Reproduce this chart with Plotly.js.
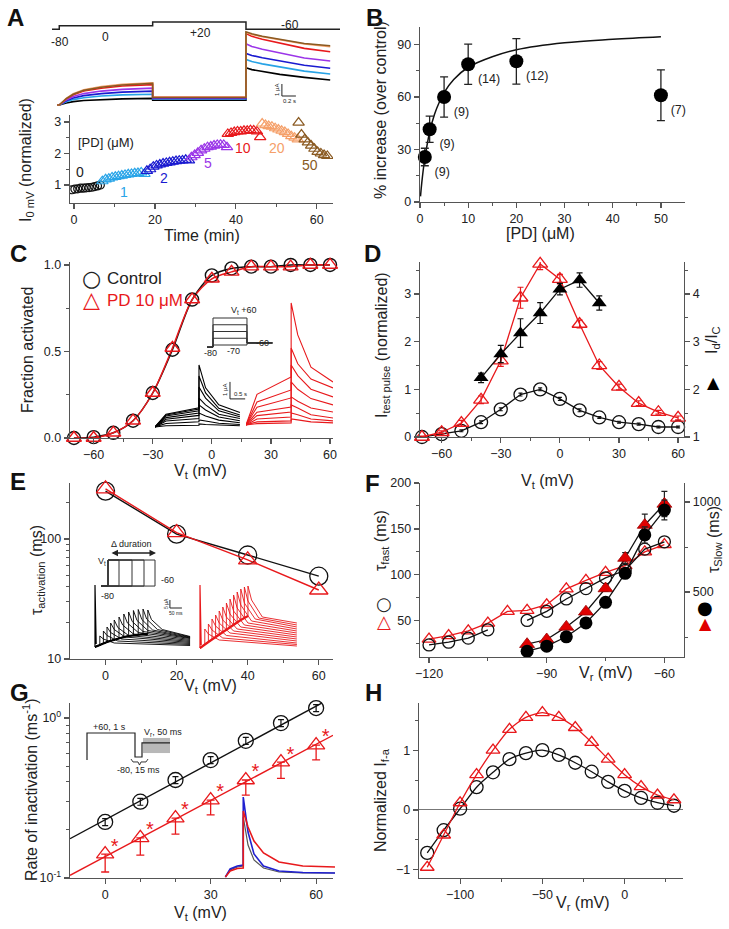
<!DOCTYPE html>
<html><head><meta charset="utf-8">
<script src="https://cdn.plot.ly/plotly-3.0.1.min.js"></script>
<style>html,body{margin:0;padding:0;background:#fff}#g{width:729px;height:929px}</style>
</head><body><div id="g"></div>
<script>
// ---------------- DATA ----------------
// Panel A top: example currents (uA) at common times (s)
const aTraceT = [-0.03,0,0.1,0.2,0.35,0.6,0.9,1.334,1.334,2.667,2.667,2.75,2.9,3.15,3.5,3.87];
const aCurBlack  = [0,0,0.17,0.28,0.37,0.45,0.51,0.55,0.4,0.4,3.1,2.95,2.78,2.55,2.3,2.08];
const aCurLBlue  = [0,0,0.27,0.45,0.61,0.75,0.84,0.9,0.5,0.5,3.8,3.62,3.43,3.15,2.82,2.58];
const aCurBlue   = [0,0,0.35,0.58,0.78,0.95,1.07,1.15,0.55,0.55,4.3,4.13,3.93,3.66,3.31,3.06];
const aCurPurple = [0,0,0.42,0.7,0.95,1.16,1.3,1.4,0.6,0.6,5.1,4.88,4.65,4.33,3.92,3.67];
const aCurRed    = [0,0,0.51,0.85,1.16,1.4,1.58,1.7,0.65,0.65,5.95,5.72,5.48,5.14,4.72,4.44];
const aCurOrange = [0,0,0.55,0.93,1.26,1.53,1.72,1.85,0.65,0.65,6.05,5.87,5.69,5.44,5.09,4.86];
const aCurBrown  = [0,0,0.54,0.9,1.22,1.48,1.67,1.8,0.62,0.62,6.1,5.93,5.73,5.46,5.13,4.94];
const aProtoT = [-0.104,0,0,1.334,1.334,2.667,2.667,4.01];
const aProtoLevel = [0,0,1,1,2,2,0,0];
// Panel A bottom: I0mV (normalized) vs time (min)
const aT0  = [-0.5,0.2,0.9,1.6,2.3,3.0,3.7,4.4,5.1,5.8,6.5];
const aY0  = [0.85,0.87,0.88,0.9,0.9,0.91,0.92,0.93,0.95,0.97,1.0];
const aT1  = [7,7.8,8.6,9.4,10.2,11,11.8,12.6,13.4,14.2,15,15.8,16.6,17.4];
const aY1  = [1.12,1.18,1.2,1.24,1.26,1.28,1.3,1.32,1.34,1.35,1.37,1.38,1.4,1.35];
const aT2  = [18,18.8,19.6,20.4,21.2,22,22.8,23.6,24.4,25.2,26,26.8,27.6,28.4];
const aY2  = [1.45,1.5,1.58,1.62,1.65,1.68,1.7,1.72,1.74,1.76,1.77,1.78,1.8,1.78];
const aT5  = [29,29.8,30.6,31.4,32.2,33,33.8,34.6,35.4,36.2,37,37.8];
const aY5  = [1.88,1.95,2.02,2.1,2.15,2.2,2.22,2.25,2.27,2.28,2.27,2.2];
const aT10 = [38,38.8,39.6,40.4,41.2,42,42.8,43.6,44.4,45.2,46];
const aY10 = [2.62,2.65,2.68,2.7,2.7,2.72,2.72,2.74,2.73,2.7,2.52];
const aT20 = [46.5,47.3,48.1,48.9,49.7,50.5,51.3,52.1,52.9,53.7,54.5,55.3];
const aY20 = [2.95,2.9,2.87,2.85,2.8,2.76,2.72,2.68,2.62,2.55,2.5,2.45];
const aT50 = [55.5,56.2,57,57.8,58.6,59.4,60.2,61,61.8,62.6];
const aY50 = [2.98,2.6,2.45,2.35,2.25,2.15,2.05,2.0,1.95,1.92];
// Panel B
const bConc = [1,2,5,10,20,50];
const bPct  = [25.7,41.6,60,78.7,80.4,61];
const bErr  = [5,7.5,11.5,11.5,13,14.5];
const bN    = ['(9)','(9)','(9)','(14)','(12)','(7)'];
const bFitX = [0.1,0.25,0.5,1,1.5,2,3,4,5,7,10,15,20,30,40,50];
const bFitY = [3.2,7.7,14.3,25,33,40,50,57,62.5,70,77,83,87,91,93,94.5];
// Panel C
const cV    = [-70,-60,-50,-40,-30,-20,-10,0,10,20,30,40,50,60];
const cCtrl = [0,0.005,0.03,0.1,0.26,0.51,0.8,0.94,0.98,0.99,0.99,1.0,1.0,1.0];
const cPD   = [0,0,0.03,0.1,0.26,0.52,0.8,0.92,0.96,0.99,0.99,0.99,1.0,1.0];
const cProtoSteps = [-70,-37.5,-5,27.5,60];
const cBlkT = [0,0.5,2.0,2.0,2.3,2.9,3.86];
const cBlkEarly = [0.75,0.7,0.65,0.55,0.45,0.35,0.2,0.07];
const cBlkStep  = [1.12,1.05,0.95,0.82,0.68,0.5,0.3,0.1];
const cBlkPeak  = [3.65,3.0,2.35,1.7,1.3,0.82,0.41,0.18];
const cBlkMid   = [2.3,2.0,1.7,1.3,1.0,0.65,0.35,0.14];
const cBlkLate  = [1.3,1.1,0.95,0.75,0.58,0.4,0.22,0.1];
const cBlkEnd   = [0.85,0.7,0.6,0.5,0.36,0.25,0.14,0.07];
const cRedT = [0,0.5,2.05,2.05,2.35,2.95,3.95];
const cRedEarly = [1.8,1.35,1.05,0.75,0.55,0.35,0.18,0.08];
const cRedStep  = [2.82,2.06,1.59,1.06,0.76,0.47,0.24,0.12];
const cRedPeak  = [7.18,4.53,3.53,2.53,1.65,1.18,0.7,0.35];
const cRedMid   = [5.3,3.6,2.9,2.1,1.4,1.0,0.6,0.3];
const cRedLate  = [3.4,2.7,2.1,1.55,1.0,0.6,0.35,0.18];
const cRedEnd   = [2.53,2.18,1.65,1.18,0.76,0.41,0.24,0.12];
// Panel D
const dV       = [-70,-60,-50,-40,-30,-20,-10,0,10,20,30,40,50,60];
const dCtrl    = [0,0.06,0.13,0.31,0.58,0.89,1.0,0.8,0.56,0.41,0.31,0.27,0.21,0.21];
const dCtrlErr = [0.01,0.02,0.02,0.03,0.03,0.03,0.03,0.03,0.03,0.02,0.02,0.02,0.02,0.02];
const dPD      = [0,0.1,0.29,0.78,1.6,2.92,3.63,3.31,2.37,1.5,1.05,0.71,0.52,0.4];
const dPDErr   = [0.02,0.03,0.06,0.08,0.12,0.22,0.12,0.1,0.08,0.08,0.06,0.05,0.04,0.04];
const dRatioV  = [-40,-30,-20,-10,0,10,20];
const dRatio   = [2.24,2.74,3.18,3.6,4.1,4.29,3.81];
const dRatioErr= [0.1,0.18,0.3,0.22,0.12,0.15,0.15];
// Panel E
const eV = [0,20,40,60];
const eCtrl = [251,110,73.6,49];
const ePD   = [262,113,67,37.6];
const eProtoEnds = [19,32,44,55];
const eBlkActT = [0,10,20,35,50,65,80,100,120,140,160,180,200,220];
const eBlkActI = [0,0.08,0.2,0.35,0.5,0.62,0.75,0.9,1.0,1.1,1.18,1.24,1.28,1.3];
const eBlkTailT  = [20,35,50,65,80,100,120,140,160,180,200,220];
const eBlkTailPk = [1.1,1.6,2.0,2.4,2.7,3.0,3.3,3.5,3.65,3.75,3.8,3.7];
const eBlkTailMid= [0.8,1.15,1.45,1.75,1.95,2.2,2.4,2.55,2.65,2.75,2.8,2.75];
const eBlkTailLate=[0.4,0.6,0.8,1.0,1.15,1.3,1.45,1.55,1.65,1.7,1.75,1.75];
const eBlkTailEnd= [0.15,0.25,0.35,0.45,0.55,0.65,0.75,0.85,0.9,0.95,1.0,1.05];
const eRedActT = [0,10,20,35,50,65,80,95,110,125,140,155,170,185,200];
const eRedActI = [0,0.15,0.35,0.6,0.85,1.1,1.35,1.6,1.85,2.1,2.35,2.6,2.8,3.0,3.2];
const eRedTailT  = [20,35,50,65,80,95,110,125,140,155,170,185,200];
const eRedTailPk = [1.9,2.4,2.9,3.3,3.7,4.1,4.5,4.9,5.3,5.6,5.9,6.1,6.2];
const eRedTailMid= [1.4,1.8,2.2,2.5,2.8,3.1,3.4,3.7,4.0,4.3,4.5,4.7,4.8];
const eRedTailLate=[0.8,1.0,1.25,1.5,1.7,1.9,2.1,2.3,2.5,2.7,2.9,3.0,3.1];
const eRedTailEnd= [0.2,0.35,0.5,0.7,0.9,1.1,1.3,1.5,1.7,1.9,2.1,2.3,2.5];
const eSpike = [6.2,6.3];
// Panel F
const fV = [-120,-115,-110,-105,-100,-95,-90,-85,-80,-75,-70,-65,-60];
const fFastCtrl = [23.7,26.7,31.1,40.2,null,50.4,60.3,73.8,85,96.7,105,128,136];
const fFastPD   = [30,33.9,39,47.5,60.2,61.3,67.5,84.7,94,102.8,110,125,133];
const fSlowV = [-95,-90,-85,-80,-75,-70,-65,-60];
const fSlowCtrl = [172,200,252,329,443,604,817,955];
const fSlowPD   = [211,237,307,391,520,689,872,989];
const fSlowCtrlErr = [8,8,10,12,15,25,45,55];
const fSlowPDErr   = [8,8,10,12,15,30,60,70];
// Panel G
const gV = [0,10,20,30,40,50,60];
const gCtrl = [0.224,0.30,0.41,0.546,0.72,0.93,1.155];
const gPD   = [0.141,0.178,0.237,0.307,0.41,0.53,0.678];
const gPDErrMinus = [0.032,0.039,0.049,0.059,0.08,0.11,0.13];
const gFitCtrlX = [-10,61.6], gFitCtrlY = [0.176,1.24];
const gFitPDX = [-10,64.8],  gFitPDY = [0.104,0.78];
const gCurT = [0,4,10,15,15,19,24,32,45,65,92];
const gCurRed   = [0,0.6,0.85,0.9,6.6,5.0,3.6,2.4,1.5,1.1,1.0];
const gCurBlue  = [0,0.8,1.1,1.2,8.0,4.5,2.3,1.1,0.6,0.45,0.4];
const gCurBlack = [0,0.7,1.0,1.1,6.0,3.2,1.7,0.9,0.5,0.4,0.4];
// Panel H
const hV   = [-120,-110,-100,-90,-80,-70,-60,-50,-40,-30,-20,-10,0,10,20,30];
const hCtrl= [-0.72,-0.34,0.02,0.38,0.63,0.85,0.95,1.0,0.92,0.79,0.64,0.47,0.32,0.2,0.12,0.07];
const hPD  = [-0.96,-0.42,0.12,0.59,1.0,1.35,1.55,1.63,1.55,1.38,1.13,0.85,0.59,0.39,0.25,0.17];

// ---------------- HELPERS ----------------
const W=729,H=929;
const FONT='Liberation Sans, Arial, sans-serif';
const AX='#555';
const RED='#e8191c';
function dX(a,b){return [a/W,b/W];}
function dY(t,b){return [1-b/H,1-t/H];}
function base(){return {showline:true,linecolor:AX,linewidth:1.3,ticks:'outside',ticklen:5,tickwidth:1.2,tickcolor:AX,showgrid:false,zeroline:false,tickfont:{family:FONT,size:12.5,color:'#222'},fixedrange:true};}
function mn(vals){return {ticks:'outside',ticklen:3,tickwidth:1,tickcolor:AX,tickvals:vals,showgrid:false};}
function X(px,range,anchor,ex){return Object.assign(base(),{domain:dX(px[0],px[1]),range,anchor},ex||{});}
function Y(py,range,anchor,ex){return Object.assign(base(),{domain:dY(py[0],py[1]),range,anchor},ex||{});}
function HX(px,range,anchor){return {domain:dX(px[0],px[1]),range,anchor,visible:false,fixedrange:true};}
function HY(py,range,anchor){return {domain:dY(py[0],py[1]),range,anchor,visible:false,fixedrange:true};}
function ann(x,y,text,opt){
  const o=Object.assign({xref:'paper',yref:'paper',x:x/W,y:1-y/H,text,showarrow:false,xanchor:'center',yanchor:'middle'},opt||{});
  o.font=Object.assign({family:FONT,size:16,color:'#222'},(opt&&opt.font)||{});
  return o;
}
const traces=[];
function add(t){t.showlegend=false;t.hoverinfo='skip';traces.push(t);}
function ln(x,y,xa,ya,color,w,extra){add(Object.assign({type:'scatter',mode:'lines',x,y,xaxis:xa,yaxis:ya,line:{color,width:w||1}},extra||{}));}

// ---------------- PANEL A ----------------
ln(aProtoT,aProtoLevel,'x12','y12','#222',1.5);
const aCols=[['#000',aCurBlack],['#27a3e6',aCurLBlue],['#1a1ad0',aCurBlue],['#9b35e8',aCurPurple],[RED,aCurRed],['#f5a06a',aCurOrange],['#8a5a22',aCurBrown]];
aCols.forEach(c=>ln(aTraceT,c[1],'x11','y11',c[0],1.6));
ln([3.18,3.18,3.38],[1.75,0.75,0.75],'x11','y11','#222',1); // scale bar 1 uA / 0.2 s
const aGroups=[[aT0,aY0,'#111','circle-open',8],[aT1,aY1,'#2aa5e8','triangle-up-open',10],[aT2,aY2,'#1a1ad0','triangle-up-open',10],[aT5,aY5,'#9b35e8','triangle-up-open',10],[aT10,aY10,RED,'triangle-up-open',10],[aT20,aY20,'#f5a06a','triangle-up-open',10],[aT50,aY50,'#8a5a22','triangle-up-open',10]];
aGroups.forEach(g=>add({type:'scatter',mode:'markers',x:g[0],y:g[1],xaxis:'x',yaxis:'y',marker:{symbol:g[3],size:g[4],color:g[2],line:{width:1.2,color:g[2]}}}));

// ---------------- PANEL B ----------------
ln(bFitX,bFitY,'x2','y2','#111',1.5,{line:{color:'#111',width:1.5,shape:'spline'}});
add({type:'scatter',mode:'markers+text',x:bConc,y:bPct,xaxis:'x2',yaxis:'y2',text:bN,textposition:'bottom right',cliponaxis:false,textfont:{family:FONT,size:12.5,color:'#222'},
  marker:{symbol:'circle',size:14,color:'#000'},error_y:{type:'data',array:bErr,visible:true,color:'#222',thickness:1.3,width:4}});

// ---------------- PANEL C ----------------
ln(cV,cCtrl,'x3','y3','#111',1.5,{line:{color:'#111',width:1.5,shape:'spline',smoothing:0.8}});
ln(cV,cPD,'x3','y3',RED,1.5,{line:{color:RED,width:1.5,shape:'spline',smoothing:0.8}});
add({type:'scatter',mode:'markers',x:cV,y:cCtrl,xaxis:'x3',yaxis:'y3',cliponaxis:false,marker:{symbol:'circle-open',size:13,color:'#111',line:{width:1.4,color:'#111'}}});
add({type:'scatter',mode:'markers',x:cV,y:cPD,xaxis:'x3',yaxis:'y3',cliponaxis:false,marker:{symbol:'triangle-up-open',size:13,color:RED,line:{width:1.4,color:RED}}});
cProtoSteps.forEach(v=>ln([-0.35,0,0,2,2,3.5],[-80,-80,v,v,-60,-60],'x15','y15','#333',1));
for(let i=0;i<cBlkPeak.length;i++) ln(cBlkT,[0,cBlkEarly[i],cBlkStep[i],cBlkPeak[i],cBlkMid[i],cBlkLate[i],cBlkEnd[i]],'x13','y13','#000',1.1);
for(let i=0;i<cRedPeak.length;i++) ln(cRedT,[0,cRedEarly[i],cRedStep[i],cRedPeak[i],cRedMid[i],cRedLate[i],cRedEnd[i]],'x14','y14',RED,1.1);
ln([3.41,3.41,4.1],[2.65,1.65,1.65],'x13','y13','#222',1); // scale bar 1 uA / 0.5 s

// ---------------- PANEL D ----------------
add({type:'scatter',mode:'lines+markers',x:dV,y:dCtrl,xaxis:'x4',yaxis:'y4',cliponaxis:false,line:{color:'#111',width:1.3},marker:{symbol:'circle-open',size:13,color:'#111',line:{width:1.3,color:'#111'}},error_y:{type:'data',array:dCtrlErr,color:'#111',thickness:1.2,width:2}});
add({type:'scatter',mode:'lines+markers',x:dV,y:dPD,xaxis:'x4',yaxis:'y4',cliponaxis:false,line:{color:RED,width:1.3},marker:{symbol:'triangle-up-open',size:13,color:RED,line:{width:1.3,color:RED}},error_y:{type:'data',array:dPDErr,color:RED,thickness:1.2,width:3}});
add({type:'scatter',mode:'lines+markers',x:dRatioV,y:dRatio,xaxis:'x4',yaxis:'y9',line:{color:'#111',width:1.3},marker:{symbol:'triangle-up',size:13,color:'#000'},error_y:{type:'data',array:dRatioErr,color:'#111',thickness:1.2,width:3}});

// ---------------- PANEL E ----------------
add({type:'scatter',mode:'lines+markers',x:eV,y:eCtrl,xaxis:'x5',yaxis:'y5',cliponaxis:false,line:{color:'#111',width:1.4},marker:{symbol:'circle-open',size:18,color:'#111',line:{width:1.3,color:'#111'}}});
add({type:'scatter',mode:'lines+markers',x:eV,y:ePD,xaxis:'x5',yaxis:'y5',cliponaxis:false,line:{color:RED,width:1.4},marker:{symbol:'triangle-up-open',size:16,color:RED,line:{width:1.3,color:RED}}});
eProtoEnds.forEach(e=>ln([1,8,8,e,e,1],[-80,-80,60,60,-80,-80],'x18','y18','#333',1));
function eFamily(actT,actI,tT,pk,mid,late,end,tEnd,xa,ya,col,spk){
  ln([0,0,5],[0,spk,0.3],xa,ya,col,1.2);
  for(let i=0;i<tT.length;i++){
    const xs=[],ys=[];
    for(let k=0;k<actT.length&&actT[k]<=tT[i];k++){xs.push(actT[k]);ys.push(actI[k]);}
    xs.push(tT[i],tT[i]+15,tT[i]+60,tEnd);ys.push(pk[i],mid[i],late[i],end[i]);
    ln(xs,ys,xa,ya,col,0.9);
  }
  ln(actT,actI,xa,ya,col,2.2);
}
eFamily(eBlkActT,eBlkActI,eBlkTailT,eBlkTailPk,eBlkTailMid,eBlkTailLate,eBlkTailEnd,396,'x16','y16','#000',eSpike[0]);
eFamily(eRedActT,eRedActI,eRedTailT,eRedTailPk,eRedTailMid,eRedTailLate,eRedTailEnd,404,'x17','y17',RED,eSpike[1]);
ln([312,312,362],[4.7,3.9,3.9],'x16','y16','#222',1); // scale bar

// ---------------- PANEL F ----------------
add({type:'scatter',mode:'lines+markers',x:fV,y:fFastPD,xaxis:'x6',yaxis:'y6',line:{color:RED,width:1.3},marker:{symbol:'triangle-up-open',size:12,color:RED,line:{width:1.3,color:RED}}});
add({type:'scatter',mode:'lines+markers',x:fV,y:fFastCtrl,xaxis:'x6',yaxis:'y6',connectgaps:false,line:{color:'#111',width:1.3},marker:{symbol:'circle-open',size:12,color:'#111',line:{width:1.3,color:'#111'}}});
add({type:'scatter',mode:'lines+markers',x:fSlowV,y:fSlowPD,xaxis:'x6',yaxis:'y10',line:{color:'#111',width:1.3},marker:{symbol:'triangle-up',size:13,color:'#e00000',line:{width:0.8,color:'#900'}},error_y:{type:'data',array:fSlowPDErr,color:'#222',thickness:1.2,width:3}});
add({type:'scatter',mode:'lines+markers',x:fSlowV,y:fSlowCtrl,xaxis:'x6',yaxis:'y10',line:{color:'#111',width:1.3},marker:{symbol:'circle',size:13,color:'#000'},error_y:{type:'data',array:fSlowCtrlErr,color:'#222',thickness:1.2,width:3}});

// ---------------- PANEL G ----------------
ln(gFitCtrlX,gFitCtrlY,'x7','y7','#111',1.4);
ln(gFitPDX,gFitPDY,'x7','y7',RED,1.4);
add({type:'scatter',mode:'markers',x:gV,y:gCtrl,xaxis:'x7',yaxis:'y7',cliponaxis:false,marker:{symbol:'circle-open',size:15,color:'#111',line:{width:1.3,color:'#111'}},error_y:{type:'data',array:gCtrl.map(v=>v*0.05),color:'#111',thickness:1.2,width:3}});
add({type:'scatter',mode:'markers',x:gV,y:gPD,xaxis:'x7',yaxis:'y7',cliponaxis:false,marker:{symbol:'triangle-up-open',size:15,color:RED,line:{width:1.3,color:RED}},error_y:{type:'data',symmetric:false,array:gPD.map(()=>0),arrayminus:gPDErrMinus,color:RED,thickness:1.3,width:4}});
add({type:'scatter',mode:'text',x:gV.map(v=>v+2.7),y:gPD.map(v=>v*1.1),xaxis:'x7',yaxis:'y7',cliponaxis:false,text:gV.map(()=>'*'),textposition:'middle center',textfont:{family:FONT,size:20,color:RED}});
// protocol inset (schematic)
add({type:'scatter',mode:'lines',x:[58,85,85,58,58],y:[31,31,-57,-57,31],xaxis:'x19',yaxis:'y19',fill:'toself',fillcolor:'rgba(160,160,160,0.75)',line:{width:0}});
ln([2,2,50,50,57,57,85],[-97,60,60,-80,-80,2,2],'x19','y19','#222',1.2);
ln([46,48,53,54.5,56,61,63],[-92,-109,-109,-127,-109,-109,-92],'x19','y19','#222',0.9);
ln(gCurT,gCurBlack,'x20','y20','#555',1.2);
ln(gCurT,gCurBlue,'x20','y20','#2020d0',1.6);
ln(gCurT,gCurRed,'x20','y20',RED,1.6);

// ---------------- PANEL H ----------------
add({type:'scatter',mode:'lines+markers',x:hV,y:hCtrl,xaxis:'x8',yaxis:'y8',cliponaxis:false,line:{color:'#111',width:1.3,shape:'spline',smoothing:0.6},marker:{symbol:'circle-open',size:13,color:'#111',line:{width:1.3,color:'#111'}}});
add({type:'scatter',mode:'lines+markers',x:hV,y:hPD,xaxis:'x8',yaxis:'y8',cliponaxis:false,line:{color:RED,width:1.3,shape:'spline',smoothing:0.6},marker:{symbol:'triangle-up-open',size:12,color:RED,line:{width:1.3,color:RED}}});

// ---------------- LAYOUT ----------------
const layout={
  width:W,height:H,margin:{l:0,r:0,t:0,b:0},paper_bgcolor:'#fff',plot_bgcolor:'rgba(0,0,0,0)',showlegend:false,
  font:{family:FONT,size:13,color:'#222'},
  xaxis: X([70,333],[-1,64],'y',{tickvals:[0,20,40,60],minor:mn([10,30,50])}),
  yaxis: Y([115,203],[0.43,3.22],'x',{tickvals:[1,2,3],minor:mn([1.5,2.5])}),
  xaxis2:X([420,685],[0,55],'y2',{tickvals:[0,10,20,30,40,50],minor:mn([5,15,25,35,45])}),
  yaxis2:Y([27,202],[0,100],'x2',{tickvals:[0,30,60,90],minor:mn([15,45,75])}),
  xaxis3:X([70,333],[-72,61.5],'y3',{tickvals:[-60,-30,0,30,60],minor:mn([-45,-15,15,45])}),
  yaxis3:Y([262,438],[0,1.017],'x3',{tickvals:[0,0.5,1],tickformat:'.1f',minor:mn([0.25,0.75])}),
  xaxis4:X([420,684],[-71,63],'y4',{tickvals:[-60,-30,0,30,60],minor:mn([-45,-15,15,45])}),
  yaxis4:Y([262,437],[0,3.67],'x4',{tickvals:[0,1,2,3],minor:mn([0.5,1.5,2.5,3.5])}),
  yaxis9:Y([262,437],[1,4.67],'x4',{overlaying:'y4',side:'right',tickvals:[1,2,3,4],minor:mn([1.5,2.5,3.5,4.5])}),
  xaxis5:X([70,333],[-10,64],'y5',{tickvals:[0,20,40,60],minor:mn([10,30,50])}),
  yaxis5:Y([483,659],[1,2.467],'x5',{type:'log',tickvals:[10,100],ticktext:['10','100'],minor:mn([20,30,40,50,60,70,80,90,200])}),
  xaxis6:X([420,684],[-122.3,-55],'y6',{tickvals:[-120,-90,-60],minor:mn([-105,-75])}),
  yaxis6:Y([483,657],[10.6,200],'x6',{tickvals:[50,100,150,200],minor:mn([25,75,125,175])}),
  yaxis10:Y([483,657],[140,1105],'x6',{overlaying:'y6',side:'right',tickvals:[500,1000],minor:mn([250,750])}),
  xaxis7:X([70,333],[-10,64.8],'y7',{tickvals:[0,30,60],minor:mn([10,20,40,50])}),
  yaxis7:Y([703,878],[-1,0.094],'x7',{type:'log',tickvals:[0.1,1],ticktext:['10<sup>-1</sup>','10<sup>0</sup>'],minor:mn([0.2,0.3,0.4,0.5,0.6,0.7,0.8,0.9])}),
  xaxis8:X([419,683],[-125,35.5],'y8',{tickvals:[-100,-50,0],minor:mn([-75,-25,25])}),
  yaxis8:Y([703,878],[-1.14,1.79],'x8',{tickvals:[-1,0,1],zeroline:true,zerolinecolor:'#777',zerolinewidth:1,minor:mn([-0.5,0.5,1.5])}),
  // hidden inset axes
  xaxis11:HX([52,340],[-0.104,4.01],'y11'), yaxis11:HY([30,110],[-0.417,6.25],'x11'),
  xaxis12:HX([52,340],[-0.104,4.01],'y12'), yaxis12:HY([18,32],[-0.74,3.1],'x12'),
  xaxis13:HX([155,250],[0,4.32],'y13'), yaxis13:HY([300,430],[-0.18,7.47],'x13'),
  xaxis14:HX([246,333],[0,3.95],'y14'), yaxis14:HY([298,428],[-0.18,7.47],'x14'),
  xaxis15:HX([205,275],[-0.47,3.65],'y15'), yaxis15:HY([312,350],[-94,88.9],'x15'),
  xaxis16:HX([92,192],[-12.5,404],'y16'), yaxis16:HY([580,650],[-0.3,6.7],'x16'),
  xaxis17:HX([197,300],[-12.5,417],'y17'), yaxis17:HY([580,650],[-0.2,6.8],'x17'),
  xaxis18:HX([100,172],[0,72],'y18'), yaxis18:HY([555,592],[-112,87],'x18'),
  xaxis19:HX([85,175],[0,90],'y19'), yaxis19:HY([726,782],[-225.9,100.8],'x19'),
  xaxis20:HX([223,335],[-2,92],'y20'), yaxis20:HY([790,880],[-0.3,8.7],'x20'),
  annotations:[]
};
const A=layout.annotations;
const bold={family:'Liberation Sans, Arial, sans-serif',size:24,color:'#111'};
[['A',16,18],['B',374,18],['C',18,254],['D',372,254],['E',18,481],['F',372,483],['G',19,692],['H',373,692]].forEach(p=>A.push(ann(p[1],p[2],'<b>'+p[0]+'</b>',{font:bold})));
// panel A labels
A.push(ann(60,42,'-80',{font:{size:12}}),ann(105,37,'0',{font:{size:12}}),ann(200,33,'+20',{font:{size:12}}),ann(290,25,'-60',{font:{size:12}}));
A.push(ann(277,90,'1 μA',{textangle:-90,font:{size:6}}),ann(289,101,'0.2 s',{font:{size:6}}));
A.push(ann(106,143,'[PD] (μM)',{font:{size:13}}),ann(80,172,'0',{font:{size:14}}),ann(124,192,'1',{font:{size:14,color:'#2aa5e8'}}),ann(164,178,'2',{font:{size:14,color:'#1a1ad0'}}),
  ann(208,163,'5',{font:{size:14,color:'#9b35e8'}}),ann(243,148,'10',{font:{size:14,color:RED}}),ann(277,148,'20',{font:{size:14,color:'#f5a06a'}}),ann(310,165,'50',{font:{size:14,color:'#8a5a22'}}));
A.push(ann(26,160,'I<sub>0 mV</sub> (normalized)',{textangle:-90}),ann(202,235,'Time (min)'));
// B
A.push(ann(381,110,'% increase (over control)',{textangle:-90}),ann(540,233,'[PD] (μM)'));
// C
A.push(ann(27,350,'Fraction activated',{textangle:-90}),ann(200,471,'V<sub>t</sub> (mV)'));
A.push(ann(92,278,'○',{font:{size:22,family:'DejaVu Sans'}}),ann(105,278,'Control',{xanchor:'left',font:{size:17}}),
  ann(92,299,'△',{font:{size:22,color:RED,family:'DejaVu Sans'}}),ann(105,300,'PD 10 μM',{xanchor:'left',font:{size:17,color:RED}}));
A.push(ann(229,310,'V<sub>t</sub> +60',{xanchor:'left',font:{size:9}}),ann(210,353,'-80',{font:{size:9}}),ann(233,351,'-70',{font:{size:9}}),ann(262,343,'-60',{font:{size:9}}));
A.push(ann(225,390,'1 μA',{textangle:-90,font:{size:6}}),ann(240,394,'0.5 s',{font:{size:6}}));
// D
A.push(ann(382,345,'I<sub>test pulse</sub> (normalized)',{textangle:-90}),ann(712,340,'I<sub>d</sub>/I<sub>C</sub>',{textangle:-90}),ann(713,382,'▲',{font:{size:16,family:'DejaVu Sans',color:'#000'}}),ann(547,481,'V<sub>t</sub> (mV)'));
// E
A.push(ann(37,570,'τ<sub>activation</sub> (ms)',{textangle:-90}),ann(210,686,'V<sub>t</sub> (mV)'));
A.push(ann(131,544,'Δ duration',{font:{size:9}}),ann(102,561,'V<sub>t</sub>',{font:{size:9}}),ann(167,580,'-60',{font:{size:9}}),ann(107,596,'-80',{font:{size:9}}));
A.push({xref:'paper',yref:'paper',x:156/W,y:1-553/H,ax:-46,ay:0,axref:'pixel',ayref:'pixel',text:'',showarrow:true,arrowhead:2,startarrowhead:2,arrowside:'end+start',arrowsize:1,arrowwidth:1.3,arrowcolor:'#222'});
A.push(ann(166,604,'5 μA',{textangle:-90,font:{size:5}}),ann(176,613,'50 ms',{font:{size:5}}));
// F
A.push(ann(381,540,'τ<sub>fast</sub> (ms)',{textangle:-90}),ann(384,603,'○',{font:{size:18,family:'DejaVu Sans'}}),ann(384,621,'△',{font:{size:18,family:'DejaVu Sans',color:RED}}));
A.push(ann(714,540,'τ<sub>Slow</sub> (ms)',{textangle:-90}),ann(705,607,'●',{font:{size:18,family:'DejaVu Sans',color:'#000'}}),ann(705,623,'▲',{font:{size:16,family:'DejaVu Sans',color:'#e00000'}}));
A.push(ann(606,673,'V<sub>r</sub> (mV)'));
// G
A.push(ann(30,790,'Rate of inactivation (ms<sup>-1</sup>)',{textangle:-90}),ann(200,913,'V<sub>t</sub> (mV)'));
A.push(ann(110,727,'+60, 1 s',{font:{size:9}}),ann(163,732,'V<sub>r</sub>, 50 ms',{font:{size:9}}),ann(138,770,'-80, 15 ms',{font:{size:9}}));
// H
A.push(ann(381,800,'Normalized I<sub>f-a</sub>',{textangle:-90}),ann(583,903,'V<sub>r</sub> (mV)'));

Plotly.newPlot('g',traces,layout,{staticPlot:true,displayModeBar:false});
</script></body></html>
